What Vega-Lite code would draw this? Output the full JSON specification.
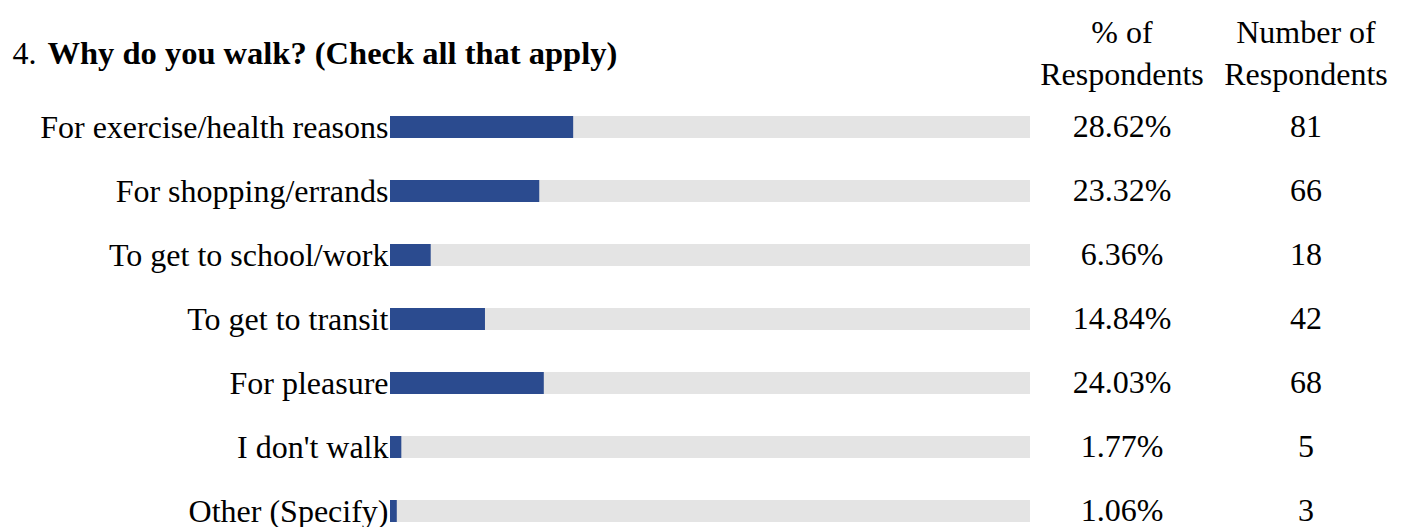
{
  "$schema": "https://vega.github.io/schema/vega-lite/v6.json",
  "padding": {"left": 12, "top": 17, "right": 0, "bottom": 0},
  "background": "white",
  "spacing": 0,
  "bounds": "full",
  "config": {
    "view": {"stroke": null},
    "font": "Liberation Serif",
    "text": {"font": "Liberation Serif", "fontSize": 32, "color": "black"},
    "title": {"font": "Liberation Serif", "fontSize": 32, "fontWeight": "normal", "color": "black"}
  },
  "data": {
    "values": [
      {"label": "For exercise/health reasons", "pct": 0.2862, "count": 81},
      {"label": "For shopping/errands", "pct": 0.2332, "count": 66},
      {"label": "To get to school/work", "pct": 0.0636, "count": 18},
      {"label": "To get to transit", "pct": 0.1484, "count": 42},
      {"label": "For pleasure", "pct": 0.2403, "count": 68},
      {"label": "I don't walk", "pct": 0.0177, "count": 5},
      {"label": "Other (Specify)", "pct": 0.0106, "count": 3}
    ]
  },
  "hconcat": [
    {
      "width": 640,
      "height": 416,
      "encoding": {
        "y": {
          "field": "label", "type": "nominal", "sort": null,
          "scale": {"type": "point", "padding": 0.25},
          "axis": {
            "title": "Why do you walk? (Check all that apply)",
            "titleFont": "Liberation Serif", "titleFontSize": 32.5, "titleFontWeight": "bold", "titleColor": "black",
            "titleAngle": 0, "titleAlign": "left", "titleBaseline": "alphabetic",
            "titleX": -343, "titleY": -48,
            "labelFont": "Liberation Serif", "labelFontSize": 32, "labelColor": "black",
            "labelPadding": 2, "labelLimit": 1000, "ticks": false, "domain": false, "grid": false
          }
        }
      },
      "layer": [
        {
          "mark": {"type": "bar", "height": 22, "color": "#e4e4e4"},
          "encoding": {
            "x": {
              "datum": 1, "type": "quantitative", "scale": {"domain": [0, 1]},
              "axis": {"orient": "top", "labels": false, "ticks": false, "domain": false, "grid": false,
                "title": "4.", "titleFont": "Liberation Serif", "titleFontSize": 32, "titleFontWeight": "normal", "titleColor": "black",
                "titleAngle": 0, "titleAlign": "left", "titleBaseline": "alphabetic", "titleX": -378, "titleY": -48}
            }
          }
        },
        {
          "mark": {"type": "bar", "height": 22, "color": "#2b4b8f"},
          "encoding": {
            "x": {
              "field": "pct", "type": "quantitative",
              "axis": {"orient": "top", "labels": false, "ticks": false, "domain": false, "grid": false,
                "title": "4.", "titleFont": "Liberation Serif", "titleFontSize": 32, "titleFontWeight": "normal", "titleColor": "black",
                "titleAngle": 0, "titleAlign": "left", "titleBaseline": "alphabetic", "titleX": -378, "titleY": -48}
            }
          }
        }
      ]
    },
    {
      "width": 184,
      "height": 416,
      "title": {"text": ["% of", "Respondents"], "anchor": "middle", "frame": "group", "baseline": "bottom", "lineHeight": 42, "offset": -13},
      "mark": {"type": "text", "baseline": "middle", "align": "center"},
      "encoding": {
        "y": {"field": "label", "type": "nominal", "sort": null, "scale": {"type": "point", "padding": 0.25}, "axis": null},
        "text": {"field": "pct", "type": "quantitative", "format": ".2%"}
      }
    },
    {
      "width": 184,
      "height": 416,
      "title": {"text": ["Number of", "Respondents"], "anchor": "middle", "frame": "group", "baseline": "bottom", "lineHeight": 42, "offset": -13},
      "mark": {"type": "text", "baseline": "middle", "align": "center"},
      "encoding": {
        "y": {"field": "label", "type": "nominal", "sort": null, "scale": {"type": "point", "padding": 0.25}, "axis": null},
        "text": {"field": "count", "type": "quantitative"}
      }
    }
  ]
}
